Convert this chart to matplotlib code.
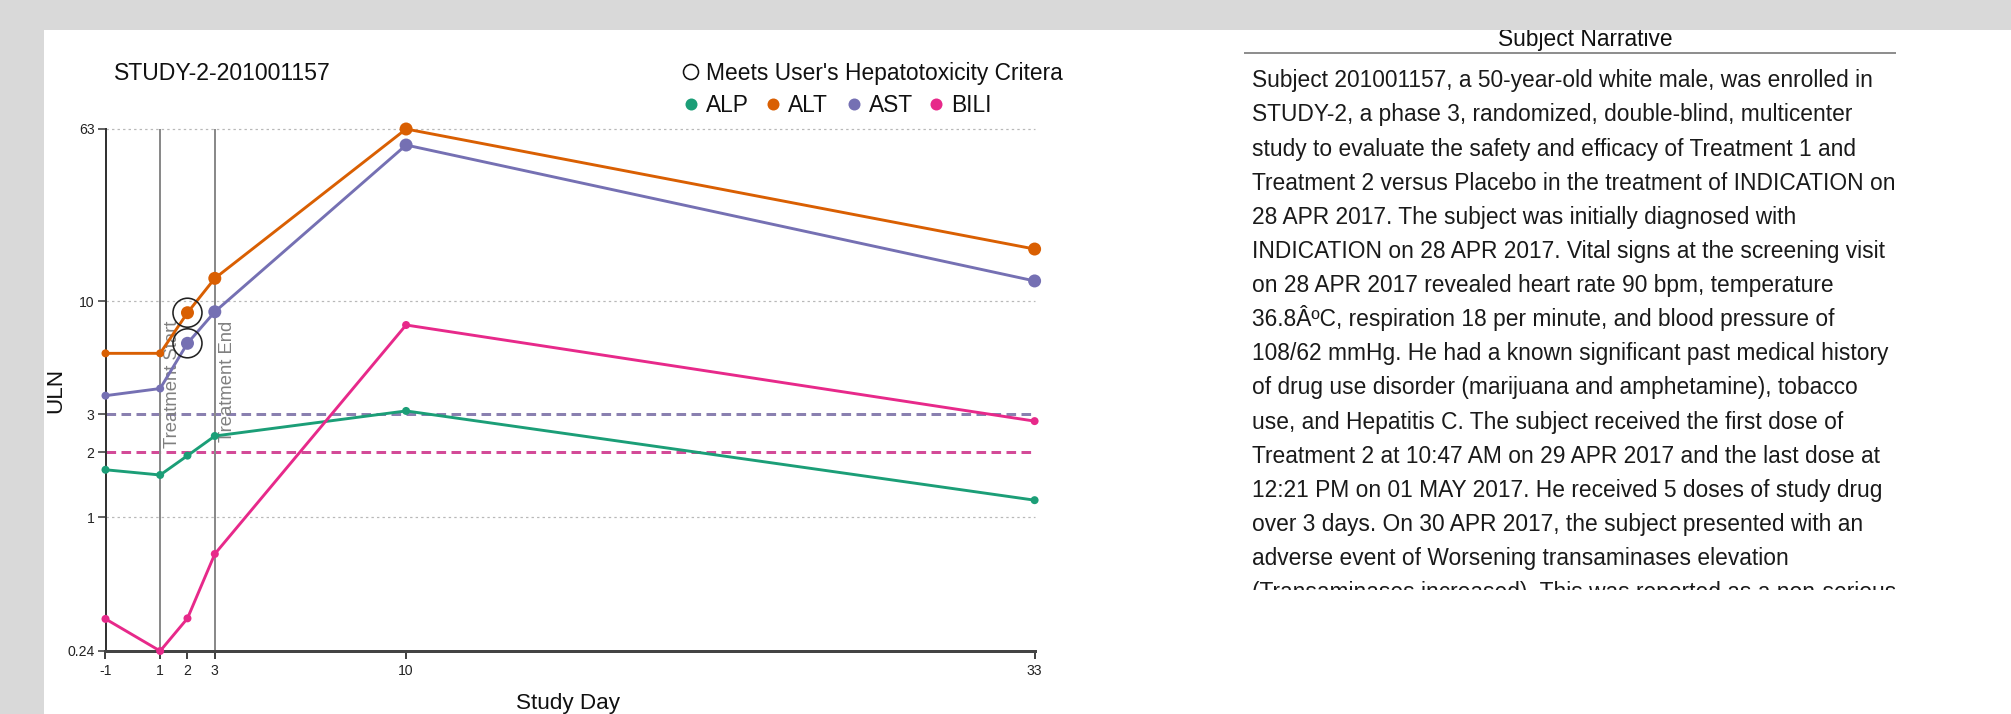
import matplotlib
matplotlib.use("Agg")
import matplotlib.pyplot as plt
from matplotlib.patches import Rectangle
import numpy as np

plt.rcParams['font.family'] = ['Liberation Sans', 'DejaVu Sans']

# ---------------- data ----------------
subject_id = "STUDY-2-201001157"
study_days = [-1, 1, 2, 3, 10, 33]
tests = ["ALP", "ALT", "AST", "BILI"]
alp_uln = [1.66, 1.57, 1.93, 2.38, 3.11, 1.20]
alt_uln = [5.75, 5.75, 8.87, 12.8, 63.0, 17.5]
ast_uln = [3.66, 3.95, 6.40, 8.96, 53.1, 12.45]
bili_uln = [0.338, 0.24, 0.340, 0.676, 7.78, 2.79]
hepatotox_points = [("ALT", 2), ("AST", 2)]
treatment_start_day = 1
treatment_end_day = 3
transaminase_ref = 3
bili_ref = 2
y_ticks = [0.24, 1, 2, 3, 10, 63]
legend_title = "Meets User's Hepatotoxicity Critera"
narrative_title = "Subject Narrative"
narrative_lines = [
    "Subject 201001157, a 50-year-old white male, was enrolled in",
    "STUDY-2, a phase 3, randomized, double-blind, multicenter",
    "study to evaluate the safety and efficacy of Treatment 1 and",
    "Treatment 2 versus Placebo in the treatment of INDICATION on",
    "28 APR 2017. The subject was initially diagnosed with",
    "INDICATION on 28 APR 2017. Vital signs at the screening visit",
    "on 28 APR 2017 revealed heart rate 90 bpm, temperature",
    "36.8\u00c2\u00baC, respiration 18 per minute, and blood pressure of",
    "108/62 mmHg. He had a known significant past medical history",
    "of drug use disorder (marijuana and amphetamine), tobacco",
    "use, and Hepatitis C. The subject received the first dose of",
    "Treatment 2 at 10:47 AM on 29 APR 2017 and the last dose at",
    "12:21 PM on 01 MAY 2017. He received 5 doses of study drug",
    "over 3 days. On 30 APR 2017, the subject presented with an",
    "adverse event of Worsening transaminases elevation",
    "(Transaminases increased). This was reported as a non-serious",
]

series = {"ALP": alp_uln, "ALT": alt_uln, "AST": ast_uln, "BILI": bili_uln}
colors = {"ALP": "#1b9e77", "ALT": "#d95f02", "AST": "#7570b3", "BILI": "#e7298a"}

# ---------------- layout helpers ----------------
W, H = 2011, 714
DPI = 100
PX = 72.0 / DPI  # points per pixel


def fx(px):
    return px / W


def fy(py):
    return 1 - py / H


fig = plt.figure(figsize=(W / DPI, H / DPI), dpi=DPI)
fig.patch.set_facecolor('#d9d9d9')
fig.add_artist(Rectangle((fx(44), 0), 1 - fx(44), fy(30), transform=fig.transFigure,
                         facecolor='white', edgecolor='none', zorder=-5))

# ---------------- main chart ----------------
ax = fig.add_axes([fx(105.5), fy(651), fx(1034.6) - fx(105.5), fy(129) - fy(651)])
ax.set_facecolor('white')
ax.set_yscale('log')
ax.set_xlim(min(study_days), max(study_days))
ax.set_ylim(min(min(v) for v in series.values()), max(max(v) for v in series.values()))

# grid lines (dotted) at non-reference ticks
for t in y_ticks:
    if t in (transaminase_ref, bili_ref) or t == y_ticks[0]:
        continue
    ax.axhline(t, color='#b8b8b8', lw=1.2 * PX, linestyle=(0, (2.0, 2.6)), zorder=1, clip_on=False)

# reference lines
ax.axhline(transaminase_ref, color='#8a80b0', lw=3 * PX, linestyle=(0, (3.2, 1.8)), zorder=2)
ax.axhline(bili_ref, color='#d34b98', lw=3 * PX, linestyle=(0, (3.2, 1.8)), zorder=2)

# treatment lines
for d, lab in [(treatment_start_day, "Treatment Start"), (treatment_end_day, "Treatment End")]:
    ax.axvline(d, color='#8a8a8a', lw=2 * PX, zorder=2)
    ax.annotate(lab, xy=(d, 0.632), xycoords=ax.get_xaxis_transform(),
                xytext=(17 * PX, 0), textcoords='offset points',
                rotation=90, rotation_mode='anchor', ha='right', va='baseline',
                fontsize=18.5 * PX, color='#808080', zorder=2)

# series
days_arr = np.array(study_days)
for name in tests:
    vals = np.array(series[name])
    ax.plot(days_arr, vals, color=colors[name], lw=2.9 * PX, zorder=4, clip_on=False)
    big = (name in ("ALT", "AST")) & (days_arr > treatment_start_day)
    sizes = np.where(big, (13 * PX) ** 2, (8 * PX) ** 2)
    ax.scatter(days_arr, vals, s=sizes, color=colors[name], zorder=5, clip_on=False,
               linewidths=0)

# hepatotoxicity circles
for name, d in hepatotox_points:
    v = series[name][study_days.index(d)]
    ax.scatter([d], [v], s=(29 * PX) ** 2, facecolors='none', edgecolors='#222222',
               linewidths=1.6 * PX, zorder=6, clip_on=False)

# axes styling
for s in ('top', 'right'):
    ax.spines[s].set_visible(False)
ax.spines['left'].set_color('#333333')
ax.spines['left'].set_linewidth(2 * PX)
ax.spines['bottom'].set_color('#444444')
ax.spines['bottom'].set_linewidth(3 * PX)
ax.set_xticks(study_days)
ax.set_xticklabels([str(d) for d in study_days])
ax.set_yticks(y_ticks)
ax.set_yticklabels([('%g' % t) for t in y_ticks])
ax.yaxis.set_minor_locator(matplotlib.ticker.NullLocator())
ax.tick_params(axis='x', length=8 * PX, width=2 * PX, color='#444444', pad=5 * PX,
               labelsize=14 * PX, labelcolor='#222222')
ax.tick_params(axis='y', length=8 * PX, width=1.5 * PX, color='#333333', pad=3 * PX,
               labelsize=14 * PX, labelcolor='#222222')

fig.text(fx(567.6), fy(709), "Study Day", ha='center', va='baseline', fontsize=22.5 * PX, color='#111111')
fig.text(fx(56), fy(390), "ULN", ha='center', va='center', rotation=90, fontsize=22.5 * PX, color='#111111')
fig.text(fx(114), fy(80), subject_id, ha='left', va='baseline', fontsize=23 * PX, color='#111111')

# ---------------- legend (overlay) ----------------
ov = fig.add_axes([0, 0, 1, 1], zorder=10)
ov.set_xlim(0, W)
ov.set_ylim(H, 0)
ov.axis('off')
ov.patch.set_alpha(0)
ov.scatter([691], [72], s=(15 * PX) ** 2, facecolors='none', edgecolors='#111111', linewidths=1.6 * PX)
ov.text(706, 80, legend_title, ha='left', va='baseline', fontsize=22.7 * PX, color='#111111')
for i, name in enumerate(tests):
    x0 = 691 + i * 81.7
    ov.scatter([x0], [104], s=(12 * PX) ** 2, color=colors[name], linewidths=0)
    ov.text(x0 + 15, 112, name, ha='left', va='baseline', fontsize=22.7 * PX, color='#111111')

# ---------------- narrative ----------------
na = fig.add_axes([fx(1230), fy(590), fx(1960) - fx(1230), fy(30) - fy(590)], zorder=5)
na.set_xlim(1230, 1960)
na.set_ylim(590, 30)
na.axis('off')
na.text(1585, 46, narrative_title, ha='center', va='baseline', fontsize=22.8 * PX,
        color='#111111', clip_on=True)
na.plot([1244, 1896], [53, 53], color='#8f8f8f', lw=2 * PX, solid_capstyle='butt')
for i, line in enumerate(narrative_lines):
    na.text(1252, 87.3 + 34.13 * i, line, ha='left', va='baseline', fontsize=22.8 * PX,
            color='#1a1a1a', clip_on=True)

fig.savefig("out.png", dpi=DPI, facecolor=fig.get_facecolor())
